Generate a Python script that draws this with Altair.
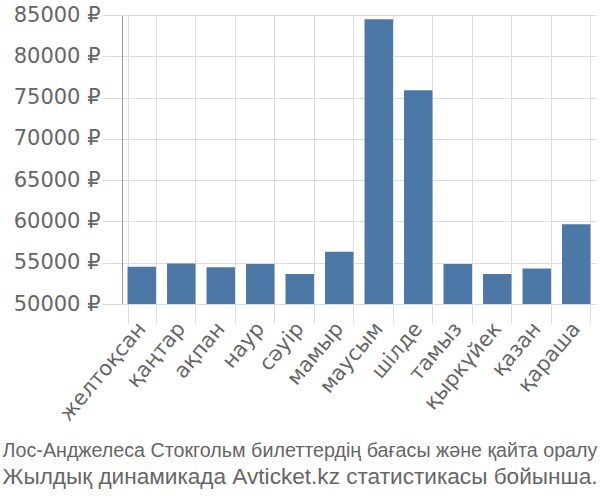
import altair as alt
import pandas as pd

months = ["желтоқсан", "қаңтар", "ақпан", "наур", "сәуір", "мамыр",
          "маусым", "шілде", "тамыз", "қыркүйек", "қазан", "қараша"]
prices = [54500, 54900, 54450, 54850, 53630, 56330,
          84500, 75900, 54850, 53630, 54300, 59650]
y_ticks = [50000, 55000, 60000, 65000, 70000, 75000, 80000, 85000]

title_line1 = "Лос-Анджелеса Стокгольм билеттердің бағасы және қайта оралу"
title_line2 = "Жылдық динамикада Avticket.kz статистикасы бойынша."

df = pd.DataFrame({"month": months, "price": prices})

FONT = "DejaVu Sans"
TFONT = "Liberation Sans"

chart = alt.Chart(df).mark_bar(color="#4c78a8", clip=True).encode(
    x=alt.X("month:N", sort=months,
            scale=alt.Scale(paddingInner=0.28, paddingOuter=0.14),
            axis=alt.Axis(title=None, labelAngle=-50, labelFontSize=21,
                          labelColor="#666666", labelFont=FONT,
                          tickBand="extent", tickSize=19, tickColor="#dddddd",
                          gridColor="#dddddd", grid=True, domain=False,
                          labelPadding=2)),
    y=alt.Y("price:Q",
            scale=alt.Scale(domain=[50000, 85000], nice=False, zero=False),
            axis=alt.Axis(title=None, values=y_ticks, labelFontSize=21,
                          labelColor="#666666", labelFont=FONT,
                          labelExpr="datum.value + ' ₽'",
                          tickSize=20, tickColor="#dddddd", gridColor="#dddddd",
                          domainColor="#999999", labelPadding=2)),
).properties(
    width=474, height=289,
    title=alt.TitleParams(text=title_line1, subtitle=title_line2, orient="bottom",
                          anchor="middle", font=TFONT, subtitleFont=TFONT,
                          fontSize=19.7, subtitleFontSize=22.6, fontWeight="normal",
                          color="#666666", subtitleColor="#666666", offset=17,
                          subtitlePadding=5, dx=-59),
    autosize=alt.AutoSizeParams(type="none"),
    padding={"left": 122, "top": 15, "right": 4, "bottom": 196},
).configure_view(stroke=None)

chart.save("out.html", embed_options={"renderer": "svg", "actions": False})
